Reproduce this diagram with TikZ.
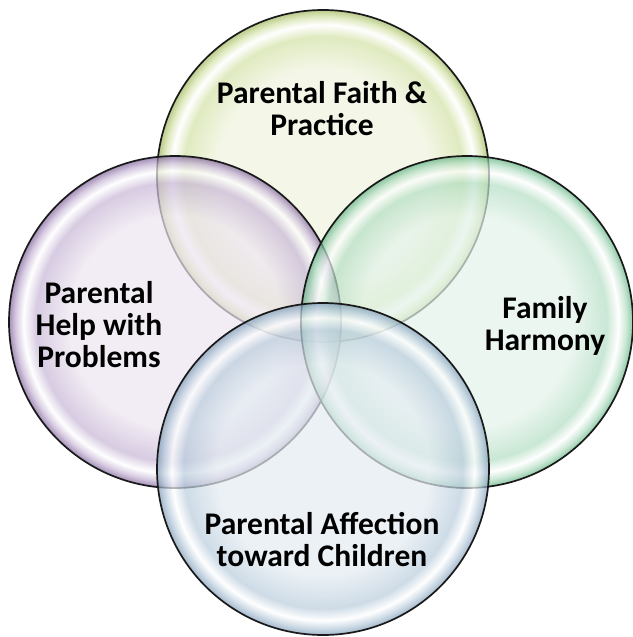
\documentclass[tikz,border=0pt]{standalone}
\usepackage{fontspec}
\setmainfont{Carlito}
\definecolor{topin}{HTML}{F0F4DE}
\definecolor{topmid}{HTML}{D3E2A6}
\definecolor{toprim}{HTML}{9DB55A}
\definecolor{leftin}{HTML}{EDE5F0}
\definecolor{leftmid}{HTML}{C7B6D6}
\definecolor{leftrim}{HTML}{7D6199}
\definecolor{rightin}{HTML}{E3F3EA}
\definecolor{rightmid}{HTML}{B4DEC4}
\definecolor{rightrim}{HTML}{5FB282}
\definecolor{botin}{HTML}{E4ECF2}
\definecolor{botmid}{HTML}{BACDDD}
\definecolor{botrim}{HTML}{7E9BB6}
\pgfdeclareradialshading{topshade}{\pgfpoint{0bp}{0bp}}{color(0bp)=(topin); color(16bp)=(topin); color(21bp)=(topmid); color(22.8bp)=(white); color(24bp)=(topmid); color(25bp)=(toprim); color(50bp)=(toprim)}
\pgfdeclareradialshading{leftshade}{\pgfpoint{0bp}{0bp}}{color(0bp)=(leftin); color(16bp)=(leftin); color(21bp)=(leftmid); color(22.8bp)=(white); color(24bp)=(leftmid); color(25bp)=(leftrim); color(50bp)=(leftrim)}
\pgfdeclareradialshading{rightshade}{\pgfpoint{0bp}{0bp}}{color(0bp)=(rightin); color(16bp)=(rightin); color(21bp)=(rightmid); color(22.8bp)=(white); color(24bp)=(rightmid); color(25bp)=(rightrim); color(50bp)=(rightrim)}
\pgfdeclareradialshading{botshade}{\pgfpoint{0bp}{0bp}}{color(0bp)=(botin); color(16bp)=(botin); color(21bp)=(botmid); color(22.8bp)=(white); color(24bp)=(botmid); color(25bp)=(botrim); color(50bp)=(botrim)}
\tikzset{
  bubble/.style={circle, minimum size=332pt, inner sep=0pt, draw=black!90, line width=1.7pt, fill opacity=0.7},
  lbl/.style={align=center, font=\fontsize{31.5}{32}\selectfont\bfseries, text=black, inner sep=0pt}
}
\begin{document}
\begin{tikzpicture}[x=1pt,y=-1pt]
\useasboundingbox[fill=white] (0,0) rectangle (632,637);
\node[bubble, shading=topshade] (ctop) at (323,176) {};
\node[bubble, shading=leftshade] (cleft) at (175,322) {};
\node[bubble, shading=rightshade] (cright) at (467,322) {};
\node[bubble, shading=botshade] (cbot) at (323,469) {};
\node[lbl] (ttop) at (322,109) {Parental Faith \&\\Practice};
\node[lbl] (tleft) at (99,325) {Parental\\Help with\\Problems};
\node[lbl] (tright) at (545,326) {Family\\Harmony};
\node[lbl] (tbot) at (322,540) {Parental Affection\\toward Children};
\end{tikzpicture}
\end{document}
